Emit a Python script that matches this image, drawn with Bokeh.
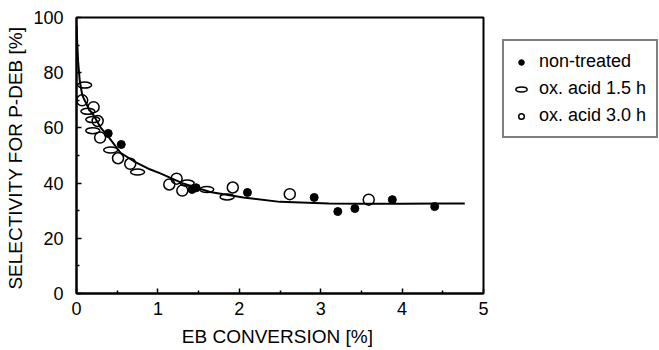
from bokeh.plotting import figure
from bokeh.layouts import row
from bokeh.models import FixedTicker, Legend, LegendItem
from bokeh.embed import file_html
from bokeh.resources import INLINE

# ---- data ----
nt_x = [0.39, 0.55, 1.42, 1.47, 2.10, 2.92, 3.21, 3.42, 3.88, 4.40]
nt_y = [58.0, 54.0, 37.7, 38.3, 36.6, 34.8, 29.7, 30.8, 34.0, 31.5]

ox15_x = [0.10, 0.14, 0.20, 0.20, 0.42, 0.75, 1.36, 1.60, 1.85]
ox15_y = [75.5, 66.0, 63.0, 59.0, 52.0, 44.0, 40.0, 37.7, 35.0]

ox30_x = [0.07, 0.21, 0.26, 0.29, 0.51, 0.66, 1.14, 1.23, 1.30, 1.92, 2.62, 3.59]
ox30_y = [70.0, 67.5, 62.5, 56.5, 49.0, 47.0, 39.5, 41.6, 37.3, 38.4, 36.0, 34.0]

fit_x = [0, 0.01, 0.02, 0.04, 0.07, 0.10, 0.15, 0.20, 0.30, 0.40, 0.54, 0.70,
         0.90, 1.03, 1.30, 1.64, 2.05, 2.50, 3.10, 3.50, 4.00, 4.50, 4.77]
fit_y = [97, 90, 84, 77, 72, 70, 67, 65, 60, 56.5, 51, 48,
         45, 43.5, 40, 36.8, 34.8, 33.2, 32.6, 32.5, 32.5, 32.6, 32.6]

x_ticks = [0, 1, 2, 3, 4, 5]
x_minor = [0.5, 1.5, 2.5, 3.5, 4.5]
y_ticks = [0, 20, 40, 60, 80, 100]
y_minor = [10, 30, 50, 70, 90]

labels = ["non-treated", "ox. acid 1.5 h", "ox. acid 3.0 h"]

FONT = "Liberation Sans"
H = 350

p = figure(width=490, height=H, output_backend="svg", toolbar_location=None,
           x_range=(0, 5), y_range=(0, 100),
           min_border_left=76, min_border_right=7, min_border_top=17,
           min_border_bottom=57)
p.grid.visible = False
p.outline_line_color = "black"
p.outline_line_width = 2

for ax in (p.xaxis[0], p.yaxis[0]):
    ax.axis_line_width = 2
    ax.major_tick_in = 5
    ax.major_tick_out = 0
    ax.minor_tick_in = 3
    ax.minor_tick_out = 0
    ax.major_tick_line_width = 1.5
    ax.minor_tick_line_width = 1.5
    ax.major_label_text_font = FONT
    ax.major_label_text_font_size = "18px"
    ax.major_label_text_color = "black"
    ax.axis_label_text_font = FONT
    ax.axis_label_text_font_size = "19px"
    ax.axis_label_text_font_style = "normal"
    ax.axis_label_text_color = "black"

p.xaxis.ticker = FixedTicker(ticks=x_ticks, minor_ticks=x_minor)
p.yaxis.ticker = FixedTicker(ticks=y_ticks, minor_ticks=y_minor)
p.xaxis.axis_label = "EB CONVERSION  [%]"
p.yaxis.axis_label = "SELECTIVITY FOR P-DEB  [%]"
p.xaxis.major_label_standoff = 8
p.yaxis.major_label_standoff = 13
p.xaxis.axis_label_standoff = 8
p.yaxis.axis_label_standoff = 4

p.line(fit_x, fit_y, line_color="black", line_width=2)

def add_series(fig):
    a = fig.scatter(nt_x, nt_y, marker="circle", size=8, fill_color="black",
                    line_color="black")
    b = fig.ellipse(ox15_x, ox15_y, width=14, height=6, width_units="screen",
                    height_units="screen", fill_color=None, line_color="black",
                    line_width=1.5)
    c = fig.scatter(ox30_x, ox30_y, marker="circle", size=11, fill_color=None,
                    line_color="black", line_width=1.5)
    return a, b, c

add_series(p)

# legend panel: a separate figure whose data range lies away from the data,
# so only the legend itself is visible there
q = figure(width=169, height=H, output_backend="svg", toolbar_location=None,
           x_range=(100, 101), y_range=(1000, 1001),
           min_border_left=0, min_border_right=0, min_border_top=0,
           min_border_bottom=0)
q.axis.visible = False
q.grid.visible = False
q.outline_line_color = None
la, lb, lc = add_series(q)

legend = Legend(items=[LegendItem(label=labels[0], renderers=[la], index=0),
                       LegendItem(label=labels[1], renderers=[lb], index=0),
                       LegendItem(label=labels[2], renderers=[lc], index=0)],
                location=(12, 155), margin=0)
legend.border_line_color = "black"
legend.border_line_width = 2
legend.label_text_font = FONT
legend.label_text_font_size = "18px"
legend.label_text_color = "black"
legend.glyph_width = 14
legend.glyph_height = 20
legend.label_height = 20
legend.spacing = 6
legend.padding = 10
legend.label_standoff = 11
legend.background_fill_color = "white"
q.add_layout(legend, "center")

layout = row(p, q)
open("out.html", "w").write(file_html(layout, INLINE))
